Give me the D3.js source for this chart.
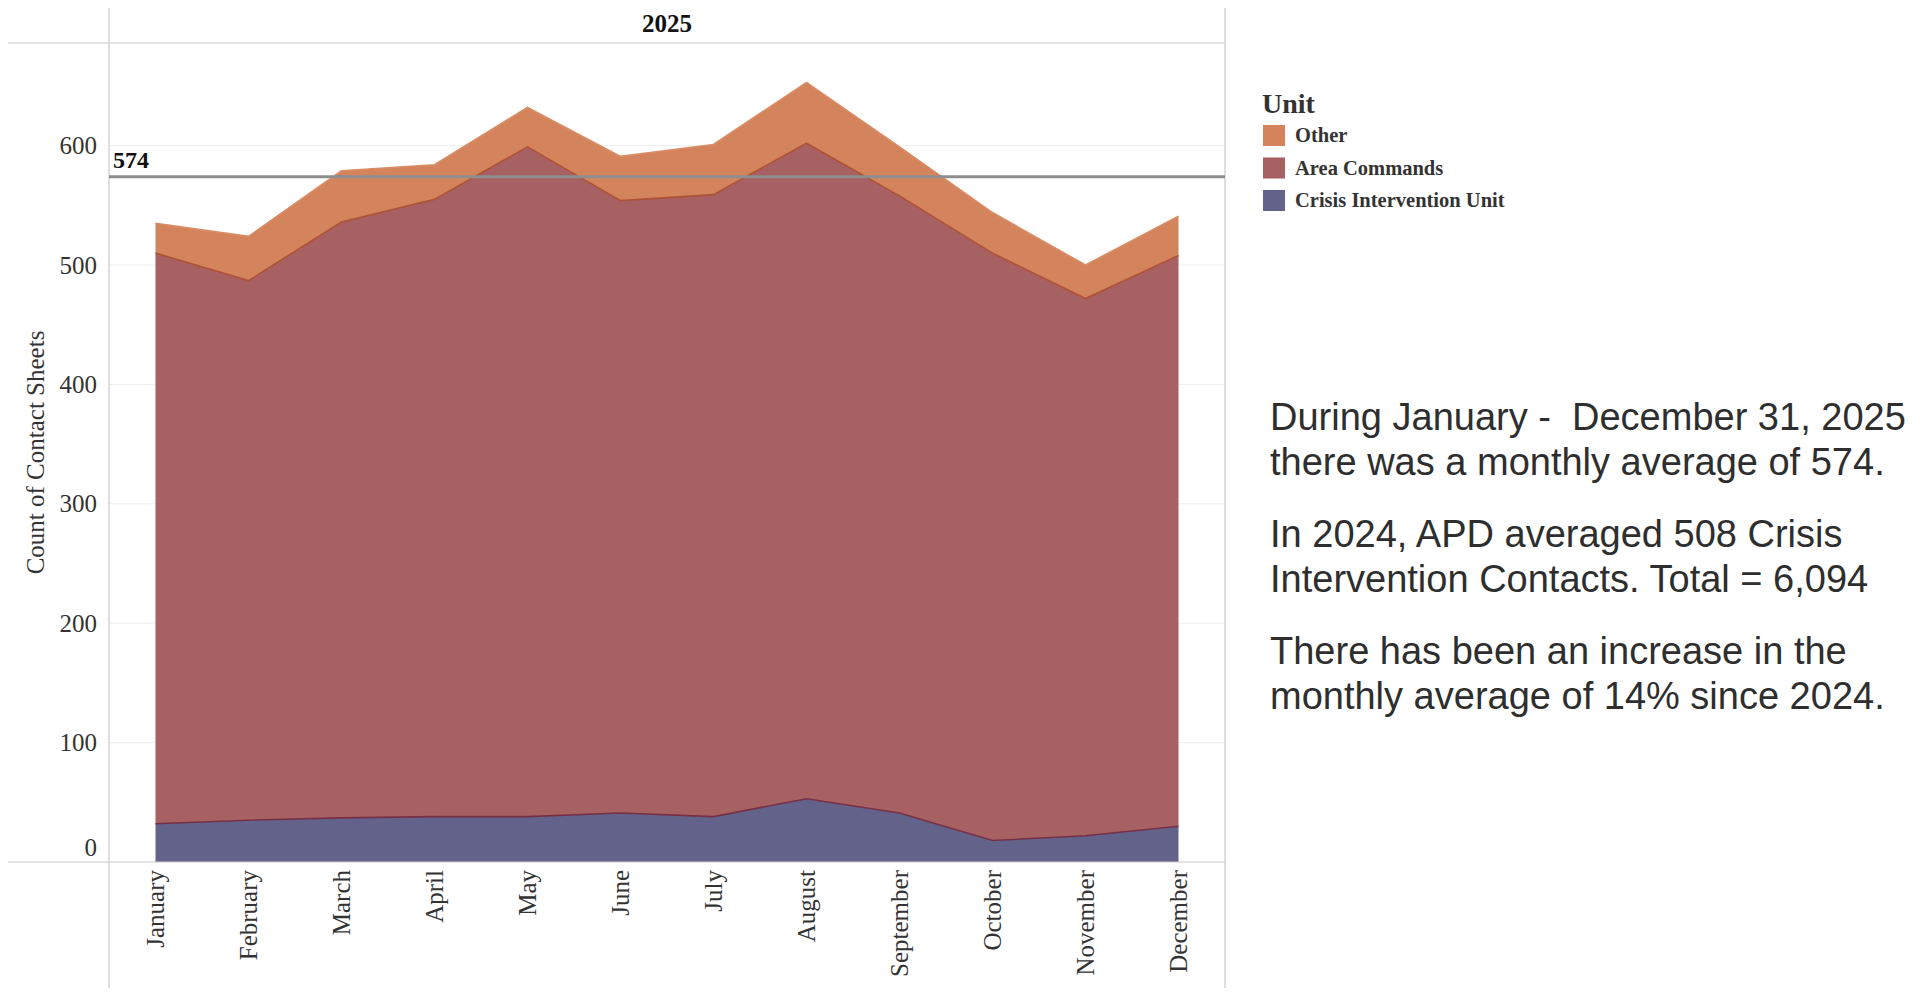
<!DOCTYPE html>
<html>
<head>
<meta charset="utf-8">
<script src="https://cdn.jsdelivr.net/npm/d3@7"></script>
<style>
  html, body { margin: 0; padding: 0; background: #fff; }
  svg { display: block; }
</style>
</head>
<body>
<svg id="chart" width="1921" height="992"></svg>
<script>
// Monthly contact sheets by unit, 2025
const months = ["January", "February", "March", "April", "May", "June",
  "July", "August", "September", "October", "November", "December"];
const crisisIntervention = [32, 35, 37, 38, 38, 41, 38, 53, 41, 18, 22, 30];
const areaCommands = [478, 452, 499, 517, 561, 513, 521, 549, 517, 492, 450, 478];
const other = [25, 37, 43, 29, 33, 37, 42, 51, 41, 34, 28, 33];
const seriesNames = ["Crisis Intervention Unit", "Area Commands", "Other"];
const legendOrder = ["Other", "Area Commands", "Crisis Intervention Unit"];
const yTicks = [0, 100, 200, 300, 400, 500, 600];
const monthlyAverage = 574;
const yearLabel = "2025";
const yTitle = "Count of Contact Sheets";
const notes = [
  ["During January -  December 31, 2025", "there was a monthly average of 574."],
  ["In 2024, APD averaged 508 Crisis", "Intervention Contacts. Total = 6,094"],
  ["There has been an increase in the", "monthly average of 14% since 2024."]
];

const fills = {
  "Other": "#d4845c",
  "Area Commands": "#a86163",
  "Crisis Intervention Unit": "#62628a"
};
const edges = {
  "Other": "#d98c66",
  "Area Commands": "#ad5236",
  "Crisis Intervention Unit": "#763046"
};

const serif = "'Liberation Serif', 'Times New Roman', serif";
const sans = "'Liberation Sans', Arial, sans-serif";

const svg = d3.select("#chart");

const pane = { left: 109, right: 1225, top: 43, bottom: 862 };

const x = d3.scalePoint().domain(months).range([pane.left, pane.right]).padding(0.5);
const y = d3.scaleLinear().domain([0, 686]).range([pane.bottom, pane.top]);

const table = months.map((m, i) => ({
  month: m,
  "Crisis Intervention Unit": crisisIntervention[i],
  "Area Commands": areaCommands[i],
  "Other": other[i]
}));
const stacked = d3.stack().keys(seriesNames)(table);

// gridlines
svg.append("g").selectAll("line").data(yTicks.filter(t => t > 0)).join("line")
  .attr("x1", pane.left).attr("x2", pane.right)
  .attr("y1", d => y(d)).attr("y2", d => y(d))
  .attr("stroke", "#ededed").attr("stroke-width", 1);

// stacked areas
const area = d3.area()
  .x(d => x(d.data.month))
  .y0(d => y(d[0]))
  .y1(d => y(d[1]));
const topLine = d3.line()
  .x(d => x(d.data.month))
  .y(d => y(d[1]));

const layers = svg.append("g");
stacked.forEach(s => {
  layers.append("path").datum(s)
    .attr("d", area)
    .attr("fill", fills[s.key]);
});
stacked.forEach(s => {
  layers.append("path").datum(s)
    .attr("d", topLine)
    .attr("fill", "none")
    .attr("stroke", edges[s.key])
    .attr("stroke-width", 1.6);
});

// pane borders
const border = svg.append("g").attr("stroke", "#c9c9c9").attr("stroke-width", 1.2);
border.append("line").attr("x1", 8).attr("x2", pane.right).attr("y1", pane.top).attr("y2", pane.top);
border.append("line").attr("x1", 8).attr("x2", pane.right).attr("y1", pane.bottom).attr("y2", pane.bottom);
border.append("line").attr("x1", pane.left).attr("x2", pane.left).attr("y1", 8).attr("y2", 988);
border.append("line").attr("x1", pane.right).attr("x2", pane.right).attr("y1", 8).attr("y2", 988);

// average reference line
svg.append("line")
  .attr("x1", pane.left).attr("x2", pane.right)
  .attr("y1", y(monthlyAverage)).attr("y2", y(monthlyAverage))
  .attr("stroke", "#8e8e8e").attr("stroke-width", 3);
svg.append("text")
  .attr("x", pane.left + 4).attr("y", y(monthlyAverage) - 9)
  .attr("font-family", serif).attr("font-size", 24).attr("font-weight", "bold")
  .attr("fill", "#111")
  .text(d3.format("d")(monthlyAverage));

// y axis
const yAxis = d3.axisLeft(y).tickValues(yTicks).tickSize(0).tickPadding(12);
const yg = svg.append("g").attr("transform", `translate(${pane.left},0)`).call(yAxis);
yg.select(".domain").remove();
yg.selectAll("text")
  .attr("font-family", serif).attr("font-size", 25).attr("fill", "#333")
  .attr("dy", d => d === 0 ? "-0.28em" : "0.32em");

svg.append("text")
  .attr("transform", `translate(44,${(pane.top + pane.bottom) / 2}) rotate(-90)`)
  .attr("text-anchor", "middle")
  .attr("font-family", serif).attr("font-size", 25).attr("fill", "#333")
  .text(yTitle);

// x axis (rotated month names)
const xAxis = d3.axisBottom(x).tickSize(0).tickPadding(0);
const xg = svg.append("g").attr("transform", `translate(0,${pane.bottom})`).call(xAxis);
xg.select(".domain").remove();
xg.selectAll("text")
  .attr("font-family", serif).attr("font-size", 25).attr("fill", "#333")
  .attr("text-anchor", "end")
  .attr("transform", "rotate(-90)")
  .attr("x", -8).attr("y", 0).attr("dy", "0.33em");

// column header
svg.append("text")
  .attr("x", (pane.left + pane.right) / 2).attr("y", 32)
  .attr("text-anchor", "middle")
  .attr("font-family", serif).attr("font-size", 25).attr("font-weight", "bold")
  .attr("fill", "#111")
  .text(yearLabel);

// legend
const legend = svg.append("g").attr("transform", "translate(1262,0)");
legend.append("text")
  .attr("x", 0).attr("y", 113)
  .attr("font-family", serif).attr("font-size", 28).attr("font-weight", "bold")
  .attr("fill", "#333")
  .text("Unit");
const items = legend.selectAll("g.item").data(legendOrder).join("g")
  .attr("class", "item")
  .attr("transform", (d, i) => `translate(1,${125 + i * 32.5})`);
items.append("rect").attr("width", 22).attr("height", 21).attr("fill", d => fills[d]);
items.append("text")
  .attr("x", 32).attr("y", 17)
  .attr("font-family", serif).attr("font-size", 20.5).attr("font-weight", "bold")
  .attr("fill", "#333")
  .text(d => d);

// summary notes
const noteG = svg.append("g").attr("font-family", sans).attr("font-size", 38).attr("fill", "#2e2e2e");
const paraTop = [430, 547, 664];
notes.forEach((para, p) => {
  para.forEach((line, l) => {
    noteG.append("text")
      .attr("x", 1270).attr("y", paraTop[p] + l * 45)
      .attr("xml:space", "preserve")
      .style("white-space", "pre")
      .text(line);
  });
});
</script>
</body>
</html>
